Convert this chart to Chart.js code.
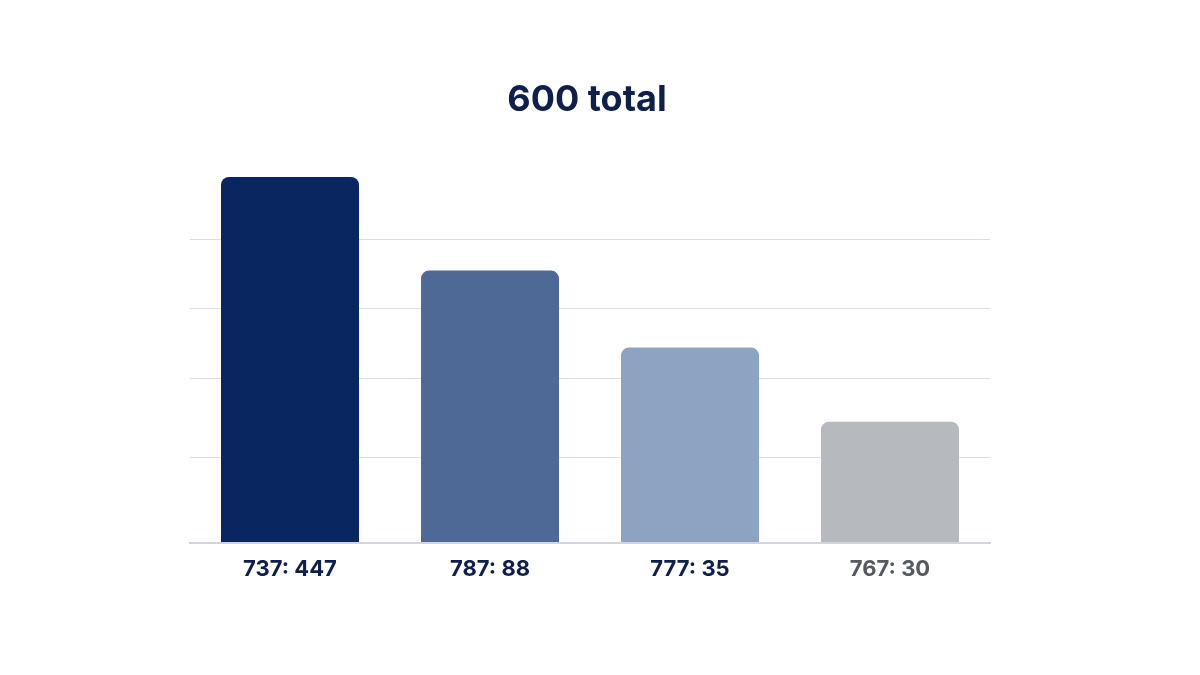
<!DOCTYPE html>
<html><head><meta charset="utf-8">
<script src="https://cdn.jsdelivr.net/npm/chart.js@4"></script>
<style>html,body{margin:0;padding:0;background:#fff}#wrap{width:1200px;height:675px}</style>
</head><body><div id="wrap"><canvas id="c"></canvas></div>
<script>
const categories = ["737: 447", "787: 88", "777: 35", "767: 30"];
const barHeights = [375, 279, 200, 124];
const gridTicks = [0, 87, 168, 240, 311];
const barColors = ["#0a2660", "#4e6996", "#8da3c2", "#b6babf"];
const labelColors = ["#0d1f4a", "#0d1f4a", "#0d1f4a", "#555a60"];
const titleText = "600 total";

const titlePlugin = {
  id: 'fixedTitle',
  afterDraw(chart) {
    const ctx = chart.ctx;
    ctx.save();
    ctx.font = "700 36px Inter, 'Open Sans', sans-serif";
    ctx.fillStyle = "#0d1f4a";
    ctx.textAlign = "center";
    ctx.textBaseline = "middle";
    ctx.fillText(titleText, 587, 100);
    ctx.restore();
  }
};

new Chart(document.getElementById('c'), {
  type: 'bar',
  data: { labels: categories, datasets: [{ data: barHeights, backgroundColor: barColors,
    borderRadius: {topLeft: 8, topRight: 8}, borderSkipped: 'bottom',
    barPercentage: 0.69, categoryPercentage: 1 }] },
  options: {
    responsive: true, maintainAspectRatio: false, animation: false,
    layout: { padding: { left: 190, right: 210, top: 177, bottom: 78 } },
    plugins: { legend: { display: false }, tooltip: { enabled: false } },
    scales: {
      x: { grid: { display: false, drawTicks: false },
           border: { color: '#cfd4de', width: 2 },
           ticks: { padding: 14, color: (c) => labelColors[c.index],
                    font: { family: "Inter, 'Open Sans', sans-serif", size: 22, weight: '700' } } },
      y: { min: 0, max: 375, display: true,
           afterBuildTicks: (s) => { s.ticks = gridTicks.map(v => ({ value: v })); },
           ticks: { display: false },
           grid: { color: '#d9dde6', lineWidth: 1, drawTicks: false },
           border: { display: false } }
    }
  },
  plugins: [titlePlugin]
});
</script></body></html>
